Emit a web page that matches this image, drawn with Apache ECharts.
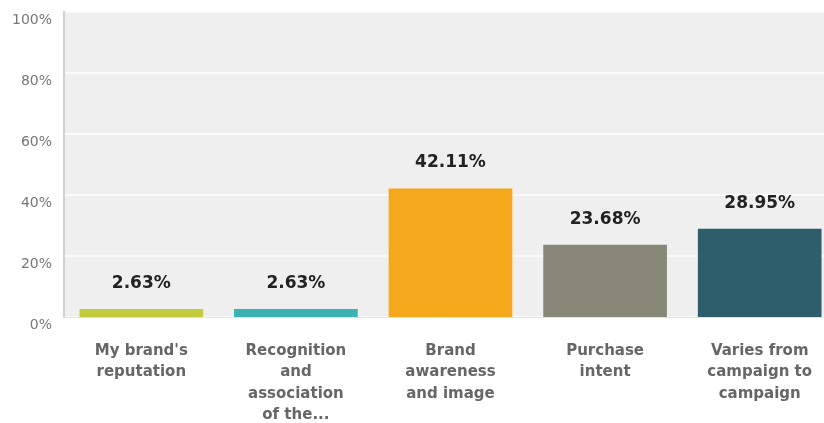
<!DOCTYPE html>
<html>
<head>
<meta charset="utf-8">
<script src="https://cdn.jsdelivr.net/npm/echarts@6/dist/echarts.min.js"></script>
<style>html,body{margin:0;padding:0;background:#fff;}#c{width:824px;height:423px;}</style>
</head>
<body>
<div id="c"></div>
<script>
var categories = ["My brand's\nreputation", "Recognition\nand\nassociation\nof the...", "Brand\nawareness\nand image", "Purchase\nintent", "Varies from\ncampaign to\ncampaign"];
var values = [2.63, 2.63, 42.11, 23.68, 28.95];
var barColors = ['#c2cc3c', '#3bb3b3', '#f5a81c', '#878878', '#2e5d6b'];
var yTicks = [0, 20, 40, 60, 80, 100];

var chart = echarts.init(document.getElementById('c'));
chart.setOption({
  animation: false,
  grid: { left: 64, right: -13, top: 12, bottom: 106, show: true, backgroundColor: '#efefef', borderWidth: 0, outerBoundsMode: 'none', containLabel: false },
  xAxis: {
    type: 'category',
    data: categories,
    axisLine: { show: true, lineStyle: { color: '#e2e2e2', width: 1 } },
    axisTick: { show: false },
    axisLabel: { interval: 0, margin: 23, color: '#666', fontFamily: 'DejaVu Sans', fontWeight: 'bold', fontSize: 15, lineHeight: 21.5 }
  },
  yAxis: {
    type: 'value', min: yTicks[0], max: yTicks[yTicks.length - 1], interval: 20,
    axisLine: { show: true, lineStyle: { color: '#d0d0d0', width: 2 } },
    axisTick: { show: false },
    splitLine: { show: true, lineStyle: { color: '#fbfbfb', width: 2 } },
    axisLabel: { formatter: '{value}%', color: '#777', fontFamily: 'DejaVu Sans', fontSize: 14, margin: 12, verticalAlign: 'top', lineHeight: 16 }
  },
  series: [{
    type: 'bar',
    barWidth: '80%',
    data: values.map(function (v, i) { return { value: v, itemStyle: { color: barColors[i] } }; }),
    label: {
      show: true, position: 'top', distance: 17,
      formatter: function (p) { return p.value.toFixed(2) + '%'; },
      color: '#222', fontFamily: 'DejaVu Sans', fontWeight: 'bold', fontSize: 17
    }
  }]
});
</script>
</body>
</html>
